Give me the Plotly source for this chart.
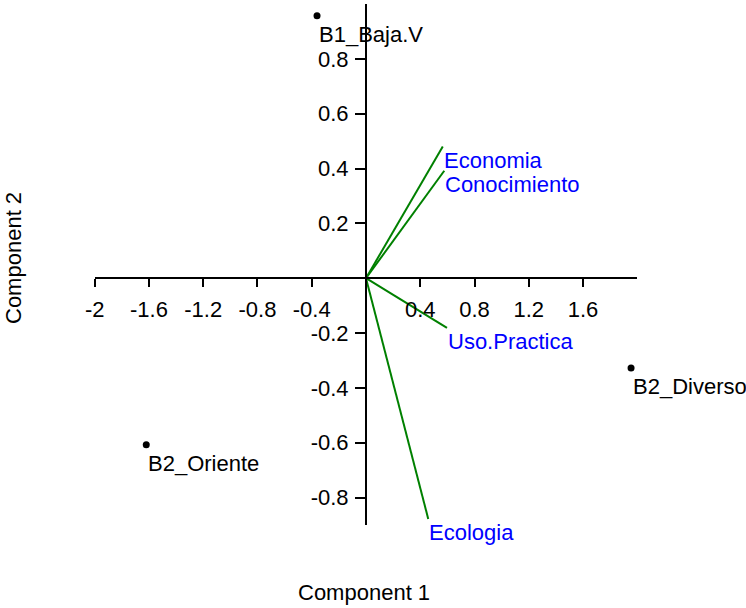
import plotly.graph_objects as go

# Sample scores (Component 1, Component 2)
site_names = ["B1_Baja.V", "B2_Diverso", "B2_Oriente"]
site_c1 = [-0.361, 1.954, -1.620]
site_c2 = [0.957, -0.327, -0.607]

# Variable loadings drawn as vectors from the origin
var_names = ["Economia", "Conocimiento", "Uso.Practica", "Ecologia"]
var_c1 = [0.566, 0.577, 0.597, 0.459]
var_c2 = [0.480, 0.392, -0.181, -0.878]

# Axis ticks
x_ticks = [-2, -1.6, -1.2, -0.8, -0.4, 0.4, 0.8, 1.2, 1.6]
x_tick_text = ["-2", "-1.6", "-1.2", "-0.8", "-0.4", "0.4", "0.8", "1.2", "1.6"]
y_ticks = [-0.8, -0.6, -0.4, -0.2, 0.2, 0.4, 0.6, 0.8]
y_tick_text = ["-0.8", "-0.6", "-0.4", "-0.2", "0.2", "0.4", "0.6", "0.8"]

x_range = [-2.0, 2.0]
y_range = [-0.9, 1.0]

W, H = 746, 608
FONT = "Liberation Sans, Arial, sans-serif"
FS = 22

fig = go.Figure()

# Loading vectors
for name, x, y in zip(var_names, var_c1, var_c2):
    fig.add_trace(go.Scatter(
        x=[0, x], y=[0, y], mode="lines",
        line=dict(color="#008000", width=2),
        hoverinfo="skip", showlegend=False,
    ))

# Sample points
fig.add_trace(go.Scatter(
    x=site_c1, y=site_c2, mode="markers",
    marker=dict(color="black", size=7),
    cliponaxis=False, showlegend=False, text=site_names,
))

annotations = []
for name, x, y in zip(site_names, site_c1, site_c2):
    annotations.append(dict(
        x=x, y=y, xref="x", yref="y", text=name, showarrow=False,
        xanchor="left", yanchor="top", xshift=0, yshift=-4,
        font=dict(family=FONT, size=FS, color="black"),
    ))
for name, x, y in zip(var_names, var_c1, var_c2):
    annotations.append(dict(
        x=x, y=y, xref="x", yref="y", text=name, showarrow=False,
        xanchor="left", yanchor="top", xshift=-1, yshift=1,
        font=dict(family=FONT, size=FS, color="#0000FF"),
    ))

# Axis titles
annotations.append(dict(
    x=364 / W, y=1 - 592 / H, xref="paper", yref="paper",
    text="Component 1", showarrow=False, xanchor="center", yanchor="middle",
    font=dict(family=FONT, size=FS, color="black"),
))
annotations.append(dict(
    x=13 / W, y=1 - 258 / H, xref="paper", yref="paper",
    text="Component 2", showarrow=False, textangle=-90,
    xanchor="center", yanchor="middle",
    font=dict(family=FONT, size=FS, color="black"),
))

# Axes crossing at the origin
x_dom = [94.7 / W, 637.3 / W]
y_dom = [1 - 525 / H, 1 - 4 / H]
x0_pos = x_dom[0] + (0 - x_range[0]) / (x_range[1] - x_range[0]) * (x_dom[1] - x_dom[0])
y0_pos = y_dom[0] + (0 - y_range[0]) / (y_range[1] - y_range[0]) * (y_dom[1] - y_dom[0])

fig.update_layout(
    width=W, height=H,
    margin=dict(l=0, r=0, t=0, b=0, autoexpand=False),
    paper_bgcolor="white", plot_bgcolor="white",
    font=dict(family=FONT, size=FS, color="black"),
    annotations=annotations,
    xaxis=dict(
        range=x_range, domain=x_dom, anchor="free", position=y0_pos,
        showgrid=False, zeroline=False, showline=True, automargin=False,
        linecolor="black", linewidth=2,
        ticks="outside", ticklen=8, tickwidth=2, tickcolor="black",
        tickvals=x_ticks, ticktext=x_tick_text, ticklabelstandoff=3,
        tickfont=dict(family=FONT, size=FS, color="black"),
    ),
    yaxis=dict(
        range=y_range, domain=y_dom, anchor="free", position=x0_pos,
        showgrid=False, zeroline=False, showline=True, automargin=False,
        linecolor="black", linewidth=2,
        ticks="outside", ticklen=10, tickwidth=2, tickcolor="black",
        tickvals=y_ticks, ticktext=y_tick_text, ticklabelstandoff=2,
        tickfont=dict(family=FONT, size=FS, color="black"),
    ),
)

fig.write_html("out.html")
